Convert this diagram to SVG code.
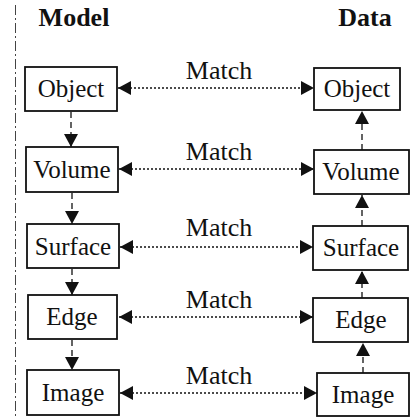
<svg xmlns="http://www.w3.org/2000/svg" width="412" height="417" viewBox="0 0 412 417">
<style>
.box{fill:#fff;stroke:#111;stroke-width:1.8}
.lbl{font-family:"Liberation Serif","Times New Roman",serif;font-size:25px;fill:#111;text-anchor:middle}
.hdr{font-family:"Liberation Serif","Times New Roman",serif;font-size:26px;font-weight:bold;fill:#111;text-anchor:middle}
.mt{font-family:"Liberation Serif","Times New Roman",serif;font-size:26px;fill:#111;text-anchor:middle}
.dot{stroke:#111;stroke-width:1.5;stroke-dasharray:2 2;fill:none}
.dash{stroke:#111;stroke-width:1.3;stroke-dasharray:6 4;fill:none}
</style>
<defs>
<marker id="ah" viewBox="0 0 13 14" refX="13" refY="7" markerWidth="13" markerHeight="14" markerUnits="userSpaceOnUse" orient="auto-start-reverse">
<path d="M0,0 L13,7 L0,14 Z" fill="#111"/>
</marker>
</defs>
<rect width="412" height="417" fill="#fff"/>
<line x1="15.5" y1="5" x2="15.5" y2="417" stroke="#444" stroke-width="1" stroke-dasharray="10 3 2 3"/>
<text class="hdr" x="74" y="26">Model</text>
<text class="hdr" x="365" y="26">Data</text>
<g id="connectors">
<line class="dot" x1="118" y1="88" x2="314" y2="88" marker-start="url(#ah)" marker-end="url(#ah)"/>
<line class="dot" x1="119" y1="169" x2="314" y2="169" marker-start="url(#ah)" marker-end="url(#ah)"/>
<line class="dot" x1="120" y1="247" x2="313" y2="247" marker-start="url(#ah)" marker-end="url(#ah)"/>
<line class="dot" x1="119" y1="317" x2="313" y2="317" marker-start="url(#ah)" marker-end="url(#ah)"/>
<line class="dot" x1="120" y1="393" x2="317" y2="393" marker-start="url(#ah)" marker-end="url(#ah)"/>
<line class="dash" x1="71" y1="112" x2="71" y2="147" marker-end="url(#ah)"/>
<line class="dash" x1="72" y1="193" x2="72" y2="224" marker-end="url(#ah)"/>
<line class="dash" x1="72" y1="269" x2="72" y2="295" marker-end="url(#ah)"/>
<line class="dash" x1="72" y1="340" x2="72" y2="370" marker-end="url(#ah)"/>
<line class="dash" x1="362" y1="150" x2="362" y2="111" marker-end="url(#ah)"/>
<line class="dash" x1="362" y1="226" x2="362" y2="195" marker-end="url(#ah)"/>
<line class="dash" x1="362" y1="298" x2="362" y2="271" marker-end="url(#ah)"/>
<line class="dash" x1="363" y1="373" x2="363" y2="343" marker-end="url(#ah)"/>
<text class="mt" x="219" y="79">Match</text>
<text class="mt" x="219" y="160">Match</text>
<text class="mt" x="219" y="236">Match</text>
<text class="mt" x="219" y="308">Match</text>
<text class="mt" x="219" y="384">Match</text>
</g>
<g id="m-object"><rect class="box" x="25" y="67" width="92" height="44"/><text class="lbl" x="71" y="97">Object</text></g>
<g id="m-volume"><rect class="box" x="26" y="147" width="92" height="45"/><text class="lbl" x="72" y="178">Volume</text></g>
<g id="m-surface"><rect class="box" x="27" y="224" width="92" height="44"/><text class="lbl" x="73" y="255">Surface</text></g>
<g id="m-edge"><rect class="box" x="28" y="295" width="89" height="44"/><text class="lbl" x="72" y="325">Edge</text></g>
<g id="m-image"><rect class="box" x="27" y="370" width="92" height="45"/><text class="lbl" x="73" y="401">Image</text></g>
<g id="d-object"><rect class="box" x="314" y="68" width="86" height="42"/><text class="lbl" x="357" y="97">Object</text></g>
<g id="d-volume"><rect class="box" x="314" y="150" width="95" height="44"/><text class="lbl" x="361" y="180">Volume</text></g>
<g id="d-surface"><rect class="box" x="313" y="226" width="95" height="44"/><text class="lbl" x="361" y="256">Surface</text></g>
<g id="d-edge"><rect class="box" x="313" y="298" width="95" height="44"/><text class="lbl" x="361" y="328">Edge</text></g>
<g id="d-image"><rect class="box" x="317" y="373" width="92" height="43"/><text class="lbl" x="363" y="403">Image</text></g>
</svg>
